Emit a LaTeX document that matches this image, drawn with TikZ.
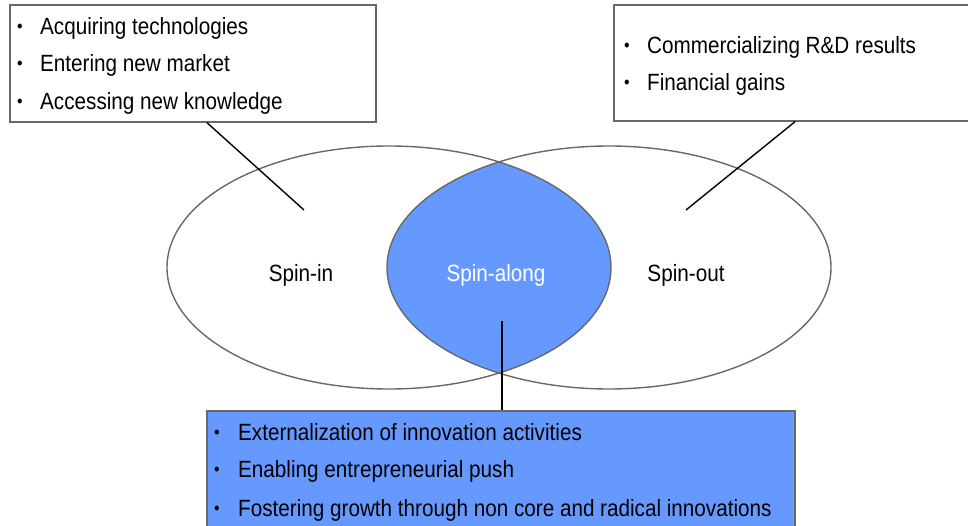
\documentclass[tikz,border=0pt]{standalone}
\usepackage{fontspec}
\setmainfont[FakeStretch=0.88]{Liberation Sans}
\usetikzlibrary{shapes.geometric}
\definecolor{lensblue}{HTML}{6699FF}
\definecolor{rimgray}{HTML}{686868}
\begin{document}
\begin{tikzpicture}[x=1pt,y=-1pt, font=\fontsize{23.5}{28}\selectfont,
  frame/.style={draw=rimgray, line width=1.4pt, inner sep=0pt},
  item/.style={anchor=base west, inner sep=0pt},
  dot/.style={anchor=base, inner sep=0pt, font=\fontsize{18}{20}\selectfont},
  label/.style={anchor=base, inner sep=0pt}]
\useasboundingbox (0,0) rectangle (968,526);
\begin{scope}
\clip (389,267.5) ellipse [x radius=222, y radius=121.5];
\fill[lensblue] (609,267.5) ellipse [x radius=222, y radius=121.5];
\end{scope}
\node[ellipse, frame, minimum width=444pt, minimum height=243pt] (spinin) at (389,267.5) {};
\node[ellipse, frame, minimum width=444pt, minimum height=243pt] (spinout) at (609,267.5) {};
\node[label] (inlabel) at (301,282) {Spin-in};
\node[label, white] (alonglabel) at (496,282) {Spin-along};
\node[label] (outlabel) at (686,282) {Spin-out};
\node[frame, fill=white, minimum width=366pt, minimum height=117pt] (boxin) at (193,63.5) {};
\node[dot] (din0) at (20,33) {•};
\node[item] (tin0) at (40,35) {Acquiring technologies};
\node[dot] (din1) at (20,70) {•};
\node[item] (tin1) at (40,72) {Entering new market};
\node[dot] (din2) at (20,108) {•};
\node[item] (tin2) at (40,110) {Accessing new knowledge};
\node[frame, fill=white, minimum width=356pt, minimum height=116pt] (boxout) at (792,63) {};
\node[dot] (dout0) at (627,52) {•};
\node[item] (tout0) at (647,54) {Commercializing R\&D results};
\node[dot] (dout1) at (627,89) {•};
\node[item] (tout1) at (647,91) {Financial gains};
\node[frame, fill=lensblue, minimum width=588pt, minimum height=134pt] (boxalong) at (501,478) {};
\node[dot] (dal0) at (217,438) {•};
\node[item] (tal0) at (238,440) {Externalization of innovation activities};
\node[dot] (dal1) at (217,475) {•};
\node[item] (tal1) at (238,477) {Enabling entrepreneurial push};
\node[dot] (dal2) at (217,514) {•};
\node[item] (tal2) at (238,516) {Fostering growth through non core and radical innovations};
\coordinate (inend) at (304,210);
\coordinate (outend) at (686,210);
\coordinate (alongend) at (502,321);
\draw[line width=1.4pt] ([xshift=14pt]boxin.south) -- (inend);
\draw[line width=1.4pt] ([xshift=3pt]boxout.south) -- (outend);
\draw[line width=1.4pt] ([xshift=1pt]boxalong.north) -- (alongend);
\end{tikzpicture}
\end{document}
